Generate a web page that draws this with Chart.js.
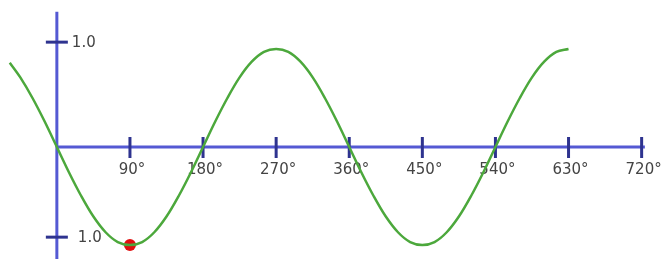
<!DOCTYPE html>
<html>
<head>
<meta charset="utf-8">
<script src="https://cdn.jsdelivr.net/npm/chart.js@4/dist/chart.umd.min.js"></script>
<style>
  html, body { margin: 0; padding: 0; background: #fff; }
  #wrap { width: 666px; height: 259px; position: relative; }
</style>
</head>
<body>
<div id="wrap"><canvas id="sineChart"></canvas></div>
<script>
// angles in degrees
const curveAngles = [-58, -45, -30, -15, 0, 15, 30, 45, 60, 75, 90, 105, 120, 135, 150, 165, 180,
    195, 210, 225, 240, 255, 270, 285, 300, 315, 330, 345, 360,
    375, 390, 405, 420, 435, 450, 465, 480, 495, 510, 525, 540,
    555, 570, 585, 600, 615, 630];
const curveValues = [0.86, 0.71, 0.5, 0.26, 0, -0.26, -0.5, -0.71, -0.87, -0.97, -1, -0.97, -0.87, -0.71, -0.5, -0.26, 0,
    0.26, 0.5, 0.71, 0.87, 0.97, 1, 0.97, 0.87, 0.71, 0.5, 0.26, 0,
    -0.26, -0.5, -0.71, -0.87, -0.97, -1, -0.97, -0.87, -0.71, -0.5, -0.26, 0,
    0.26, 0.5, 0.71, 0.87, 0.97, 1];

const dotAngles = [90];
const dotValues = [-1];

const xTickValues = [90, 180, 270, 360, 450, 540, 630, 720];
const xTickLabels = ['90°', '180°', '270°', '360°', '450°', '540°', '630°', '720°'];
const yTickValues = [1.07, -0.92];
const yTickLabels = ['1.0', '1.0'];

const axisColor = '#5459d3';
const tickColor = '#2e338f';
const labelColor = '#444';

// draws the crossing axes at x=0 / y=0 from the hidden scales
const axesPlugin = {
    id: 'crossAxes',
    beforeDatasetsDraw(chart) {
        const ctx = chart.ctx;
        const xs = chart.scales.x;
        const ys = chart.scales.y;
        const x0 = xs.getPixelForValue(0);
        const y0 = ys.getPixelForValue(0);

        ctx.save();
        ctx.lineCap = 'butt';

        // y axis
        ctx.strokeStyle = axisColor;
        ctx.lineWidth = 3;
        ctx.beginPath();
        ctx.moveTo(x0, ys.getPixelForValue(1.38));
        ctx.lineTo(x0, chart.height);
        ctx.stroke();

        // x axis
        ctx.beginPath();
        ctx.moveTo(x0, y0);
        ctx.lineTo(xs.getPixelForValue(724), y0);
        ctx.stroke();

        ctx.font = '15px "DejaVu Sans", Verdana, sans-serif';
        ctx.fillStyle = labelColor;

        // x ticks
        ctx.strokeStyle = tickColor;
        ctx.lineWidth = 3;
        ctx.textAlign = 'center';
        ctx.textBaseline = 'middle';
        xTickValues.forEach((v, i) => {
            const px = xs.getPixelForValue(v);
            ctx.beginPath();
            ctx.moveTo(px, y0 - 10);
            ctx.lineTo(px, y0 + 11);
            ctx.stroke();
            ctx.fillText(xTickLabels[i], px + 2, y0 + 23);
        });

        // y ticks
        ctx.textAlign = 'left';
        yTickValues.forEach((v, i) => {
            const py = ys.getPixelForValue(v);
            ctx.beginPath();
            ctx.moveTo(x0 - 11, py);
            ctx.lineTo(x0 + 11, py);
            ctx.stroke();
            ctx.fillText(yTickLabels[i], i === 0 ? x0 + 15 : x0 + 21, py + 1);
        });
        ctx.restore();
    }
};

const curveData = curveAngles.map((a, i) => ({ x: a, y: curveValues[i] }));
const dotData = dotAngles.map((a, i) => ({ x: a, y: dotValues[i] }));

new Chart(document.getElementById('sineChart'), {
    type: 'line',
    data: {
        datasets: [{
            data: curveData,
            borderColor: '#4ca83c',
            borderWidth: 2.5,
            pointRadius: 0,
            tension: 0.35,
            fill: false
        }, {
            data: dotData,
            showLine: false,
            pointRadius: 6,
            pointBackgroundColor: '#e01010',
            pointBorderColor: '#e01010',
            pointBorderWidth: 0
        }]
    },
    options: {
        responsive: true,
        maintainAspectRatio: false,
        animation: false,
        layout: { padding: 0, autoPadding: false },
        plugins: { legend: { display: false }, tooltip: { enabled: false } },
        scales: {
            x: { type: 'linear', min: -70, max: 750, display: false },
            y: { type: 'linear', min: -1.143, max: 1.5, display: false }
        }
    },
    plugins: [axesPlugin]
});
</script>
</body>
</html>
